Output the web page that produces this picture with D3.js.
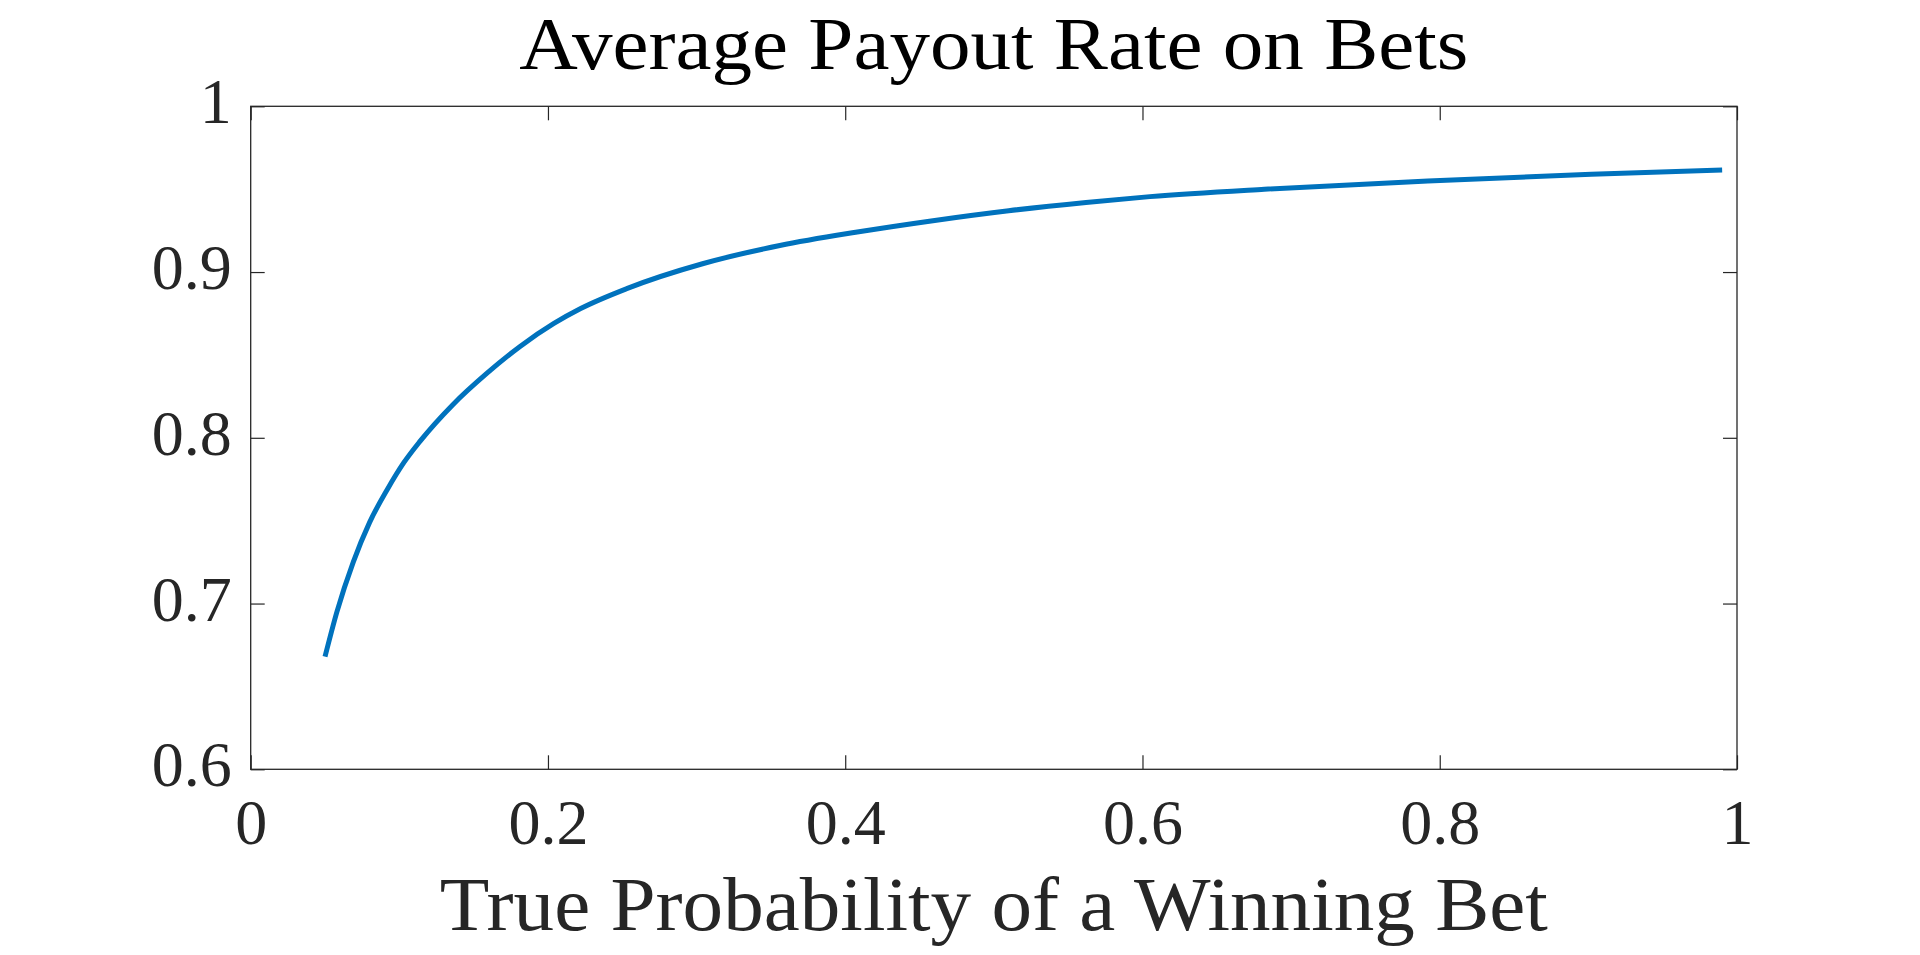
<!DOCTYPE html>
<html>
<head>
<meta charset="utf-8">
<script src="https://cdn.jsdelivr.net/npm/d3@7"></script>
<style>
  body { margin: 0; background: #fff; }
  svg text { font-family: "Liberation Serif", "DejaVu Serif", serif; }
</style>
</head>
<body>
<div id="chart"></div>
<script>
// values
var probability = [0.05, 0.058, 0.069, 0.080, 0.092, 0.103, 0.114, 0.136, 0.159, 0.181,
    0.204, 0.222, 0.253, 0.304, 0.356, 0.407, 0.459, 0.510, 0.562, 0.605,
    0.682, 0.792, 0.902, 0.990];
var payoutRate = [0.668, 0.695, 0.725, 0.749, 0.769, 0.785, 0.798, 0.820, 0.839, 0.855,
    0.869, 0.878, 0.890, 0.905, 0.916, 0.924, 0.931, 0.937, 0.942, 0.9455,
    0.950, 0.955, 0.959, 0.9615];
var xTicks = [0, 0.2, 0.4, 0.6, 0.8, 1];
var yTicks = [0.6, 0.7, 0.8, 0.9, 1];

var width = 1920, height = 955;
var margin = {top: 106.3, right: 183, bottom: 185.7, left: 250.7};
var w = width - margin.left - margin.right;
var h = height - margin.top - margin.bottom;

var svg = d3.select("#chart").append("svg")
    .attr("width", width)
    .attr("height", height);

var g = svg.append("g")
    .attr("transform", "translate(" + margin.left + "," + margin.top + ")");

var x = d3.scaleLinear().domain([0, 1]).range([0, w]);
var y = d3.scaleLinear().domain([0.6, 1]).range([h, 0]);
var fmt = d3.format("~g");

var axisColor = "#262626";

function styleAxis(sel) {
    sel.select(".domain").remove();
    sel.selectAll(".tick line").attr("stroke", axisColor).attr("stroke-width", 1.2);
    sel.selectAll(".tick text")
        .attr("fill", axisColor)
        .style("font-size", "64px");
}

g.append("g")
    .attr("class", "xaxis")
    .attr("transform", "translate(0," + h + ")")
    .call(d3.axisBottom(x).tickValues(xTicks).tickFormat(fmt)
        .tickSizeInner(-14).tickSizeOuter(0).tickPadding(29))
    .call(styleAxis);

g.append("g")
    .call(d3.axisTop(x).tickValues(xTicks).tickFormat("")
        .tickSizeInner(-14).tickSizeOuter(0))
    .call(styleAxis);

g.append("g")
    .attr("class", "yaxis")
    .call(d3.axisLeft(y).tickValues(yTicks).tickFormat(fmt)
        .tickSizeInner(-14).tickSizeOuter(0).tickPadding(19))
    .call(styleAxis)
    .selectAll(".tick text").attr("dy", "0.26em");

g.append("g")
    .attr("transform", "translate(" + w + ",0)")
    .call(d3.axisRight(y).tickValues(yTicks).tickFormat("")
        .tickSizeInner(-14).tickSizeOuter(0))
    .call(styleAxis);

// axes box
g.append("rect")
    .attr("x", 0).attr("y", 0)
    .attr("width", w).attr("height", h)
    .attr("fill", "none")
    .attr("stroke", axisColor)
    .attr("stroke-width", 1.3);

var line = d3.line()
    .x(function(d, i) { return x(probability[i]); })
    .y(function(d) { return y(d); })
    .curve(d3.curveMonotoneX);

g.append("path")
    .datum(payoutRate)
    .attr("fill", "none")
    .attr("stroke", "#0072BD")
    .attr("stroke-width", 5)
    .attr("d", line);

svg.append("text")
    .attr("x", margin.left + w / 2)
    .attr("y", 69)
    .attr("text-anchor", "middle")
    .attr("fill", "#000")
    .attr("textLength", 949)
    .attr("lengthAdjust", "spacingAndGlyphs")
    .style("font-size", "75px")
    .text("Average Payout Rate on Bets");

svg.append("text")
    .attr("x", margin.left + w / 2)
    .attr("y", 930)
    .attr("text-anchor", "middle")
    .attr("fill", axisColor)
    .attr("textLength", 1108)
    .attr("lengthAdjust", "spacingAndGlyphs")
    .style("font-size", "76px")
    .text("True Probability of a Winning Bet");
</script>
</body>
</html>
